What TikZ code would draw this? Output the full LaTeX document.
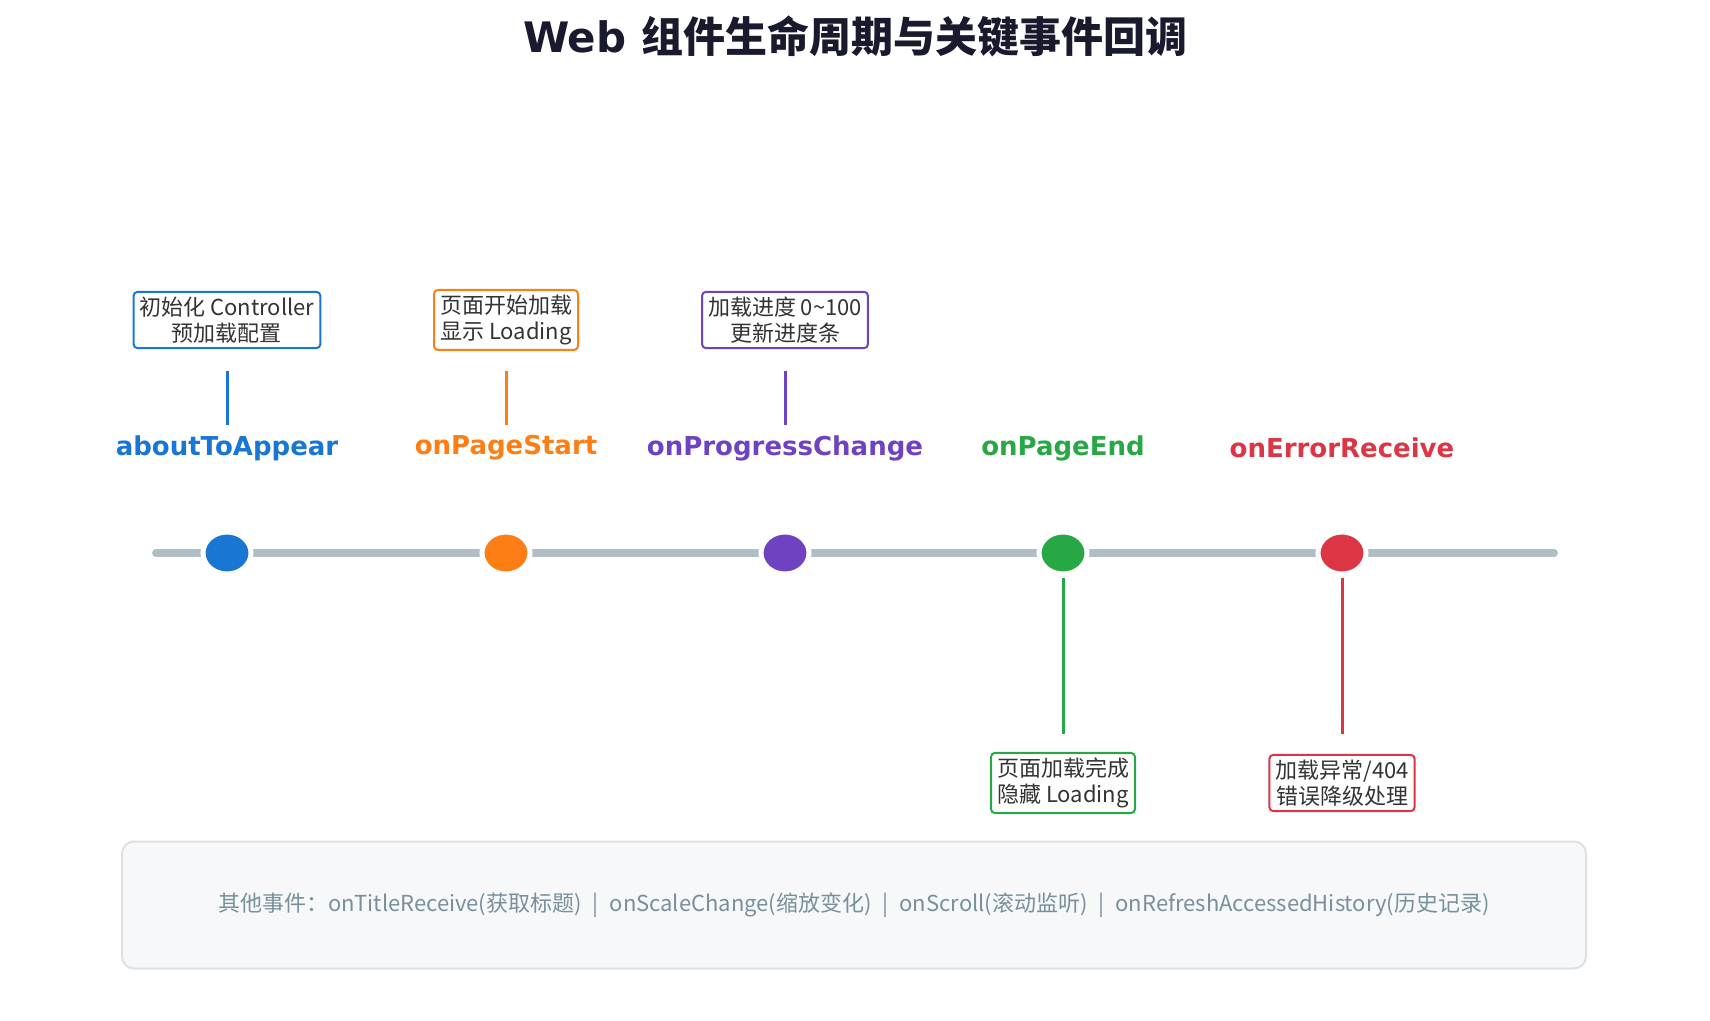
\documentclass[tikz,border=0pt]{standalone}
\usetikzlibrary{shapes.geometric}
\usepackage{fontspec}
\setmainfont{DejaVu Sans}
\newfontfamily\cjk{Noto Sans CJK SC}
\definecolor{cB}{HTML}{1976D2}\definecolor{cO}{HTML}{FD7E14}\definecolor{cP}{HTML}{6F42C1}
\definecolor{cG}{HTML}{28A745}\definecolor{cR}{HTML}{DC3545}\definecolor{tl}{HTML}{B0BEC5}
\definecolor{ttl}{HTML}{1A1A2E}\definecolor{txt}{HTML}{333333}\definecolor{gr}{HTML}{78909C}
\definecolor{pf}{HTML}{F6F8FA}\definecolor{pb}{HTML}{DDE1E6}
\begin{document}
\begin{tikzpicture}[x=0.5pt,y=-0.5pt,
 dot/.style={ellipse,minimum width=24,minimum height=21,inner sep=0,draw=white,line width=2.5},
 ev/.style={font=\fontsize{13}{15}\bfseries},
 box/.style={draw,rounded corners=2,line width=1,fill=white,align=center,text=txt,inner xsep=3,inner ysep=2.5,font=\cjk\fontsize{11}{13}\selectfont},
 con/.style={line width=1.5}]
\useasboundingbox (0,0) rectangle (1710,1021);
\node[text=ttl,font=\fontsize{21}{25}\bfseries] (title) at (855,36) {Web {\cjk\bfseries 组件生命周期与关键事件回调}};
\coordinate (L) at (156,553); \coordinate (R) at (1554,553);
\draw[tl,line width=4,line cap=round] (L) -- (R);
\foreach \n/\x/\c in {a/227/cB,b/506/cO,c/785/cP,d/1063/cG,e/1342/cR}{
 \node[dot,fill=\c] (d\n) at (\x,553) {};}
\node[ev,text=cB] (ea) at (227,448) {aboutToAppear};
\node[ev,text=cO] (eb) at (506,448) {onPageStart};
\node[ev,text=cP] (ec) at (785,448) {onProgressChange};
\node[ev,text=cG] (ed) at (1063,448) {onPageEnd};
\node[ev,text=cR] (ee) at (1342,448) {onErrorReceive};
\node[box,draw=cB] (ba) at (227,320) {初始化 Controller\\预加载配置};
\node[box,draw=cO] (bb) at (506,320) {页面开始加载\\显示 Loading};
\node[box,draw=cP] (bc) at (785,320) {加载进度 0\textasciitilde100\\更新进度条};
\node[box,draw=cG] (bd) at (1063,783) {页面加载完成\\隐藏 Loading};
\node[box,draw=cR] (be) at (1342,783) {加载异常/404\\错误降级处理};
\draw[con,cB] (227,371) -- (227,425);
\draw[con,cO] (506,371) -- (506,425);
\draw[con,cP] (785,371) -- (785,425);
\draw[con,cG] (1063,578) -- (1063,734);
\draw[con,cR] (1342,578) -- (1342,734);
\node[draw=pb,fill=pf,rounded corners=6,line width=1,minimum width=732pt,minimum height=63.5pt,text=gr,font=\cjk\fontsize{11}{13}\selectfont] (panel) at (854,905) {其他事件：onTitleReceive(获取标题)\enspace|\enspace onScaleChange(缩放变化)\enspace|\enspace onScroll(滚动监听)\enspace|\enspace onRefreshAccessedHistory(历史记录)};
\end{tikzpicture}
\end{document}
